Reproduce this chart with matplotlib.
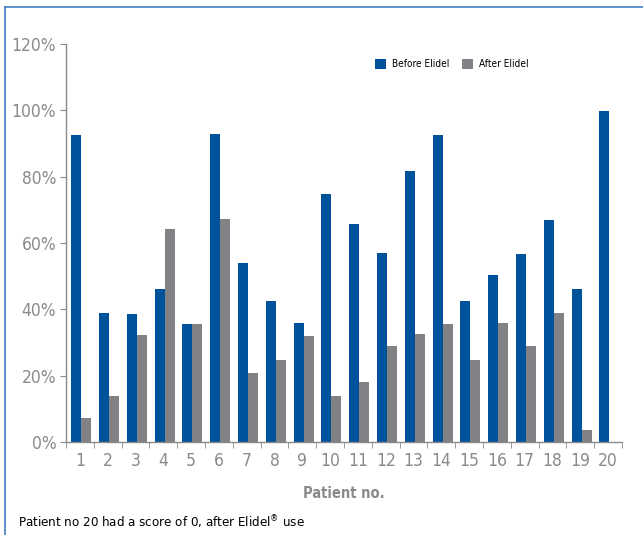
import numpy as np
import matplotlib.pyplot as plt
from matplotlib.lines import Line2D

# patient scores as % of baseline
patients = [str(i) for i in range(1, 21)]
before_elidel = [92.5, 38.9, 38.6, 46.1, 35.6, 92.8, 53.9, 42.5, 35.8, 74.7,
                 65.7, 56.9, 81.6, 92.5, 42.5, 50.3, 56.6, 66.9, 46.1, 99.7]
after_elidel = [7.1, 13.9, 32.2, 64.2, 35.6, 67.2, 20.8, 24.7, 31.9, 13.9,
                18.1, 28.9, 32.5, 35.5, 24.7, 35.8, 28.9, 38.9, 3.6, 0.0]
yticks = [0, 20, 40, 60, 80, 100, 120]

blue = "#00529b"
grey = "#818286"
label_grey = "#8a8a8c"

plt.rcParams['font.family'] = ['DejaVu Sans']
plt.rcParams['font.stretch'] = 'condensed'

fig = plt.figure(figsize=(6.43, 5.35), dpi=100)
ax = fig.add_axes([66/643, 1 - 442/535, (622 - 66)/643, (442 - 44)/535])

x = np.arange(len(patients))
w = 0.36
ax.bar(x - w/2 + 0.05, before_elidel, w, color=blue, label="Before Elidel")
ax.bar(x + w/2 + 0.05, after_elidel, w, color=grey, label="After Elidel")

ax.set_xlim(-0.5, len(patients) - 0.5)
ax.set_ylim(0, 120)
ax.set_yticks(yticks)
ax.set_yticklabels([f"{t}%" for t in yticks])
ax.set_xticks(x)
ax.set_xticklabels(patients)
ax.set_xticks(np.arange(-0.5, len(patients)), minor=True)

for s in ["top", "right"]:
    ax.spines[s].set_visible(False)
for s in ["left", "bottom"]:
    ax.spines[s].set_color(label_grey)
    ax.spines[s].set_linewidth(1.0)

ax.tick_params(axis="y", direction="out", length=4, color=label_grey,
               labelcolor=label_grey, labelsize=12.5, pad=3)
ax.tick_params(axis="x", which="major", length=0, labelcolor=label_grey,
               labelsize=12.5, pad=7)
ax.tick_params(axis="x", which="minor", direction="out", length=4,
               color=label_grey)

ax.set_xlabel("Patient no.", color=label_grey, fontsize=10.5,
              fontweight="bold", labelpad=12)

ax.legend(loc="upper left", bbox_to_anchor=(0.54, 0.985), ncol=2,
          frameon=False, fontsize=7.2, handlelength=1.1, handleheight=1.1,
          columnspacing=1.2, handletextpad=0.6)

fig.text(18/643, 1 - 522/535, "Patient no 20 had a score of 0, after Elidel$^{\u00ae}$ use",
         fontsize=9.5, color="black", va="center")

# blue frame around the panel
fig.add_artist(Line2D([5/643, 1], [1 - 7/535, 1 - 7/535], color="#3f7fc4",
                      lw=1.2, transform=fig.transFigure))
fig.add_artist(Line2D([5/643, 5/643], [0, 1 - 7/535], color="#3f7fc4",
                      lw=1.2, transform=fig.transFigure))

fig.savefig("out.png", dpi=100)
